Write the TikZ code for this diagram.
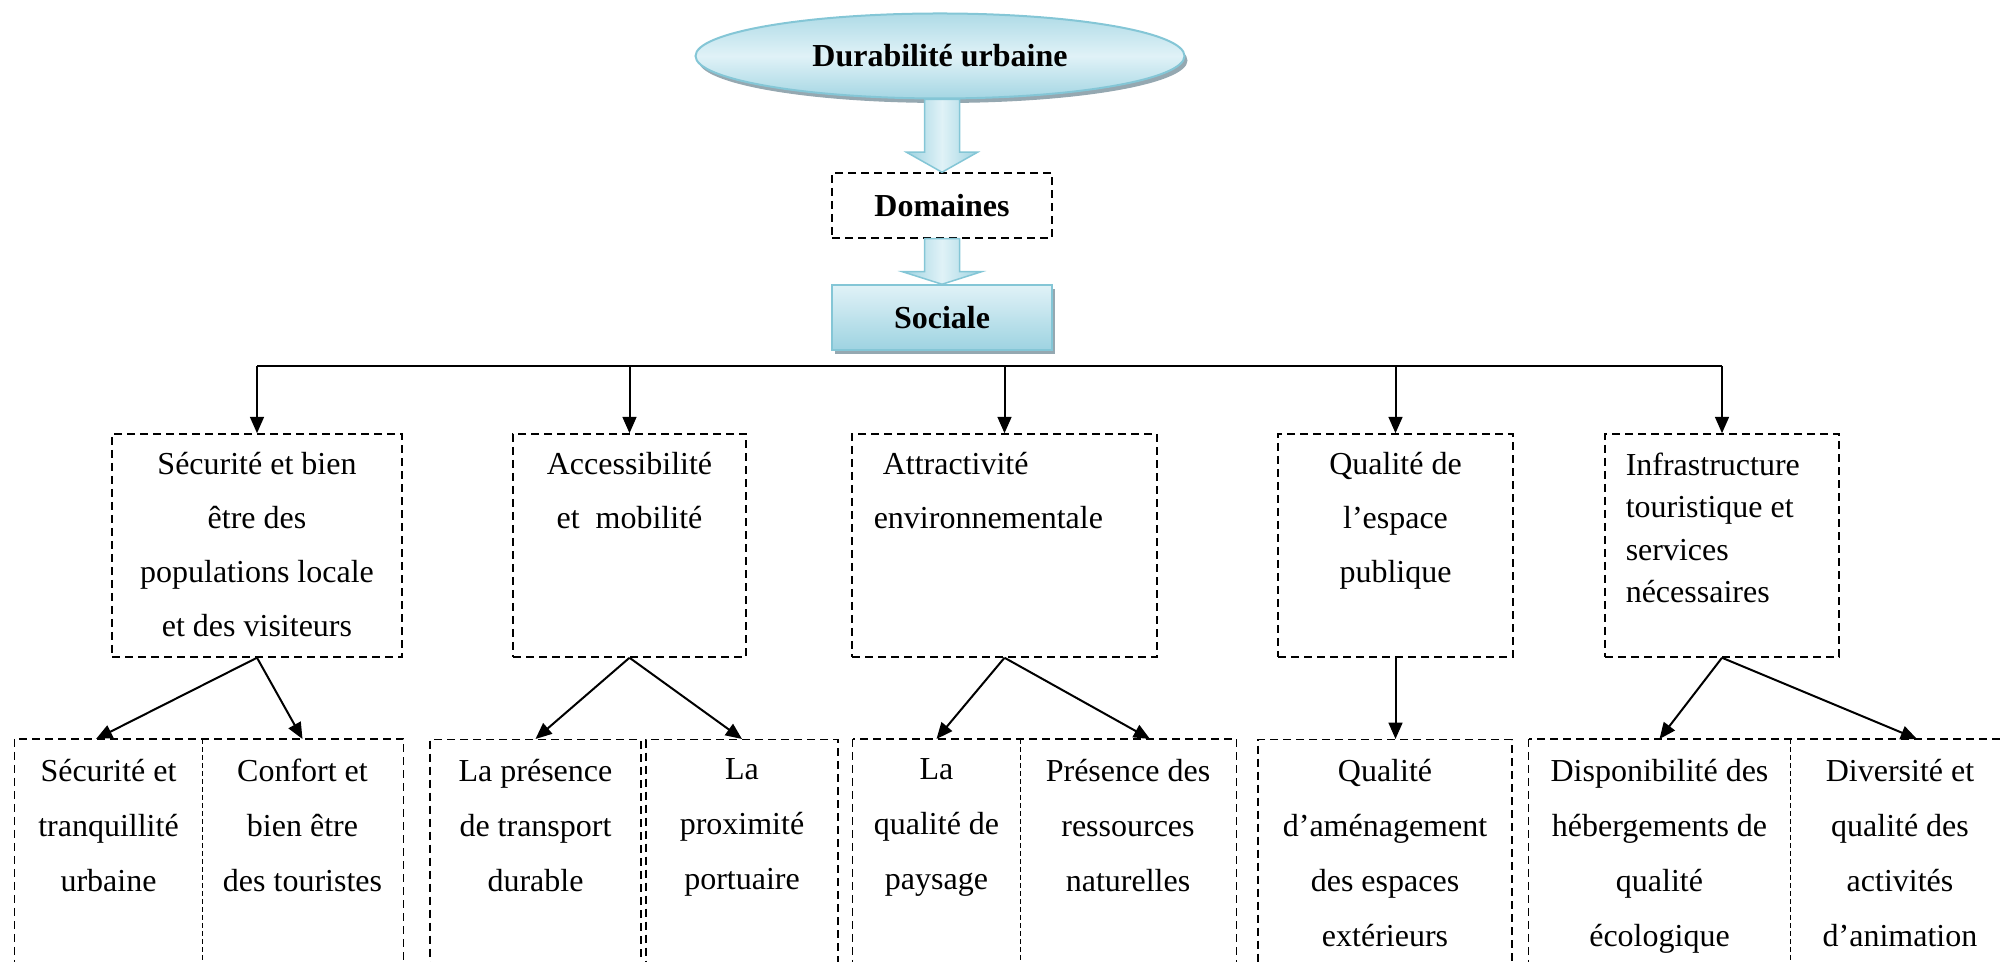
\documentclass[tikz,border=0pt]{standalone}
\usepackage{fontspec}
\setmainfont{Liberation Serif}
\usetikzlibrary{arrows.meta,shapes.geometric,shadows}
\definecolor{figL}{RGB}{224,242,247}
\definecolor{figD}{RGB}{158,211,225}
\definecolor{figE}{RGB}{132,198,214}
\definecolor{figS}{RGB}{138,158,168}

\begin{document}
\begin{tikzpicture}[>={Triangle[length=6.5pt,width=5.5pt]},x=40pt,y=40pt,
  every node/.style={inner sep=0pt,font=\fontsize{12.8}{21.6}\selectfont},
  bold/.style={font=\fontsize{12.8}{14}\selectfont\bfseries},
  dbox/.style={draw,dash pattern=on 3.2pt off 2pt,line width=0.6pt},
  fine/.style={dash pattern=on 2pt off 1.2pt,line width=0.35pt},
  sub/.style={dbox,minimum height=89.2pt},
  cell/.style={minimum height=101.2pt,anchor=north},
  txt/.style={align=center,anchor=north},
  low/.style={align=center,anchor=north,font=\fontsize{12.8}{22}\selectfont},
  blk/.style={draw=figE,line width=0.6pt,left color=figD,right color=figD,middle color=figL},
  shd/.style={drop shadow={shadow xshift=1.2pt,shadow yshift=-1.8pt,fill=figS,opacity=0.9}},
  link/.style={->,line width=0.8pt}]
\useasboundingbox (0,0) rectangle (20,9.62);
\clip (0,0) rectangle (20,9.62);
% top of the tree
\node[ellipse,bold,draw=figE,line width=0.8pt,top color=figD!75!figL,bottom color=figD!90!figL,middle color=figL,shd,minimum width=195.6pt,minimum height=34pt] (dur) at (9.40,9.06) {Durabilité urbaine};
\node[dbox,bold,minimum width=88pt,minimum height=26pt] (dom) at (9.42,7.565) {Domaines};
\node[bold,draw=figE,line width=0.6pt,top color=figL,bottom color=figD,shd,minimum width=88pt,minimum height=26pt] (soc) at (9.42,6.445) {Sociale};
\draw[blk] (dom.north) -- ([xshift=-14.2pt,yshift=8pt]dom.north) -- ([xshift=-7pt,yshift=8pt]dom.north) -- ([xshift=-7pt]dom.north |- dur.south) -- ([xshift=7pt]dom.north |- dur.south) -- ([xshift=7pt,yshift=8pt]dom.north) -- ([xshift=14.2pt,yshift=8pt]dom.north) -- cycle;
\draw[blk] (soc.north) -- ([xshift=-15.8pt,yshift=5pt]soc.north) -- ([xshift=-7pt,yshift=5pt]soc.north) -- ([xshift=-7pt]dom.south) -- ([xshift=7pt]dom.south) -- ([xshift=7pt,yshift=5pt]soc.north) -- ([xshift=15.8pt,yshift=5pt]soc.north) -- cycle;
% the five themes
\node[sub,minimum width=116pt] (s1) at (2.57,4.165) {};
\node[sub,minimum width=93.2pt] (s2) at (6.295,4.165) {};
\node[sub,minimum width=122pt] (s3) at (10.045,4.165) {};
\node[sub,minimum width=94pt] (s4) at (13.955,4.165) {};
\node[sub,minimum width=93.6pt] (s5) at (17.22,4.165) {};
\node[txt] (t1) at ([yshift=-7.4pt]s1.north) {Sécurité et bien\\être des\\populations locale\\et des visiteurs};
\node[txt] (t2) at ([yshift=-7.4pt]s2.north) {Accessibilité\\et~ mobilité};
\node[txt,align=left,anchor=north west] (t3) at ([xshift=8.8pt,yshift=-7.4pt]s3.north west) {\hspace*{3.6pt}Attractivité\\environnementale};
\node[txt] (t4) at ([yshift=-7.4pt]s4.north) {Qualité de\\l’espace\\publique};
\node[txt,align=left,anchor=north west,font=\fontsize{12.8}{17}\selectfont] (t5) at ([xshift=8.4pt,yshift=-7.6pt]s5.north west) {Infrastructure\\touristique et\\services\\nécessaires};
\coordinate (busL) at (2.57,5.96); \coordinate (busR) at (17.22,5.96);
\draw[line width=0.8pt] (busL) -- (busR);
\foreach \s in {s1,s2,s3,s4,s5} \draw[link] (\s.north |- busL) -- (\s.north);
% indicators
\node[cell,minimum width=74.8pt] (b1) at (1.085,2.23) {};
\node[cell,minimum width=80.4pt] (b2) at (3.025,2.23) {};
\node[cell,dbox,minimum width=84.4pt] (b3) at (5.355,2.23) {};
\node[cell,dbox,minimum width=76.8pt] (b4) at (7.42,2.23) {};
\node[cell,minimum width=66.8pt] (b5) at (9.365,2.23) {};
\node[cell,minimum width=86.4pt] (b6) at (11.28,2.23) {};
\node[cell,dbox,minimum width=101.6pt] (b7) at (13.85,2.23) {};
\node[cell,minimum width=104.4pt] (b8) at (16.595,2.23) {};
\node[cell,minimum width=88pt] (b9) at (19.0,2.23) {};
\draw[dbox] (b1.north west) rectangle (b2.south east); \draw[fine] (b1.north east) -- (b1.south east);
\draw[dbox] (b5.north west) rectangle (b6.south east); \draw[fine] (b5.north east) -- (b5.south east);
\draw[dbox] (b8.north west) rectangle (b9.south east); \draw[fine] (b8.north east) -- (b8.south east);
\node[low] (u1) at ([yshift=-7.8pt]b1.north) {Sécurité et\\tranquillité\\urbaine};
\node[low] (u2) at ([yshift=-7.8pt]b2.north) {Confort et\\bien être\\des touristes};
\node[low] (u3) at ([yshift=-7.8pt]b3.north) {La présence\\de transport\\durable};
\node[low] (u4) at ([yshift=-7.8pt]b4.north) {La\\proximité\\portuaire};
\node[low] (u5) at ([yshift=-7.8pt]b5.north) {La\\qualité de\\paysage};
\node[low] (u6) at ([yshift=-7.8pt]b6.north) {Présence des\\ressources\\naturelles};
\node[low] (u7) at ([yshift=-7.8pt]b7.north) {Qualité\\d’aménagement\\des espaces\\extérieurs};
\node[low] (u8) at ([yshift=-7.8pt]b8.north) {Disponibilité des\\hébergements de\\qualité\\écologique};
\node[low] (u9) at ([yshift=-7.8pt]b9.north) {Diversité et\\qualité des\\activités\\d’animation};
\draw[link] (s1.south) -- ([xshift=-5pt]b1.north); \draw[link] (s1.south) -- (b2.north);
\draw[link] (s2.south) -- (b3.north); \draw[link] (s2.south) -- (b4.north);
\draw[link] (s3.south) -- (b5.north); \draw[link] (s3.south) -- ([xshift=8.8pt]b6.north);
\draw[link] (s4.south) -- (s4.south |- b7.north);
\draw[link] (s5.south) -- (b8.north); \draw[link] (s5.south) -- ([xshift=6.8pt]b9.north);
\end{tikzpicture}
\end{document}
